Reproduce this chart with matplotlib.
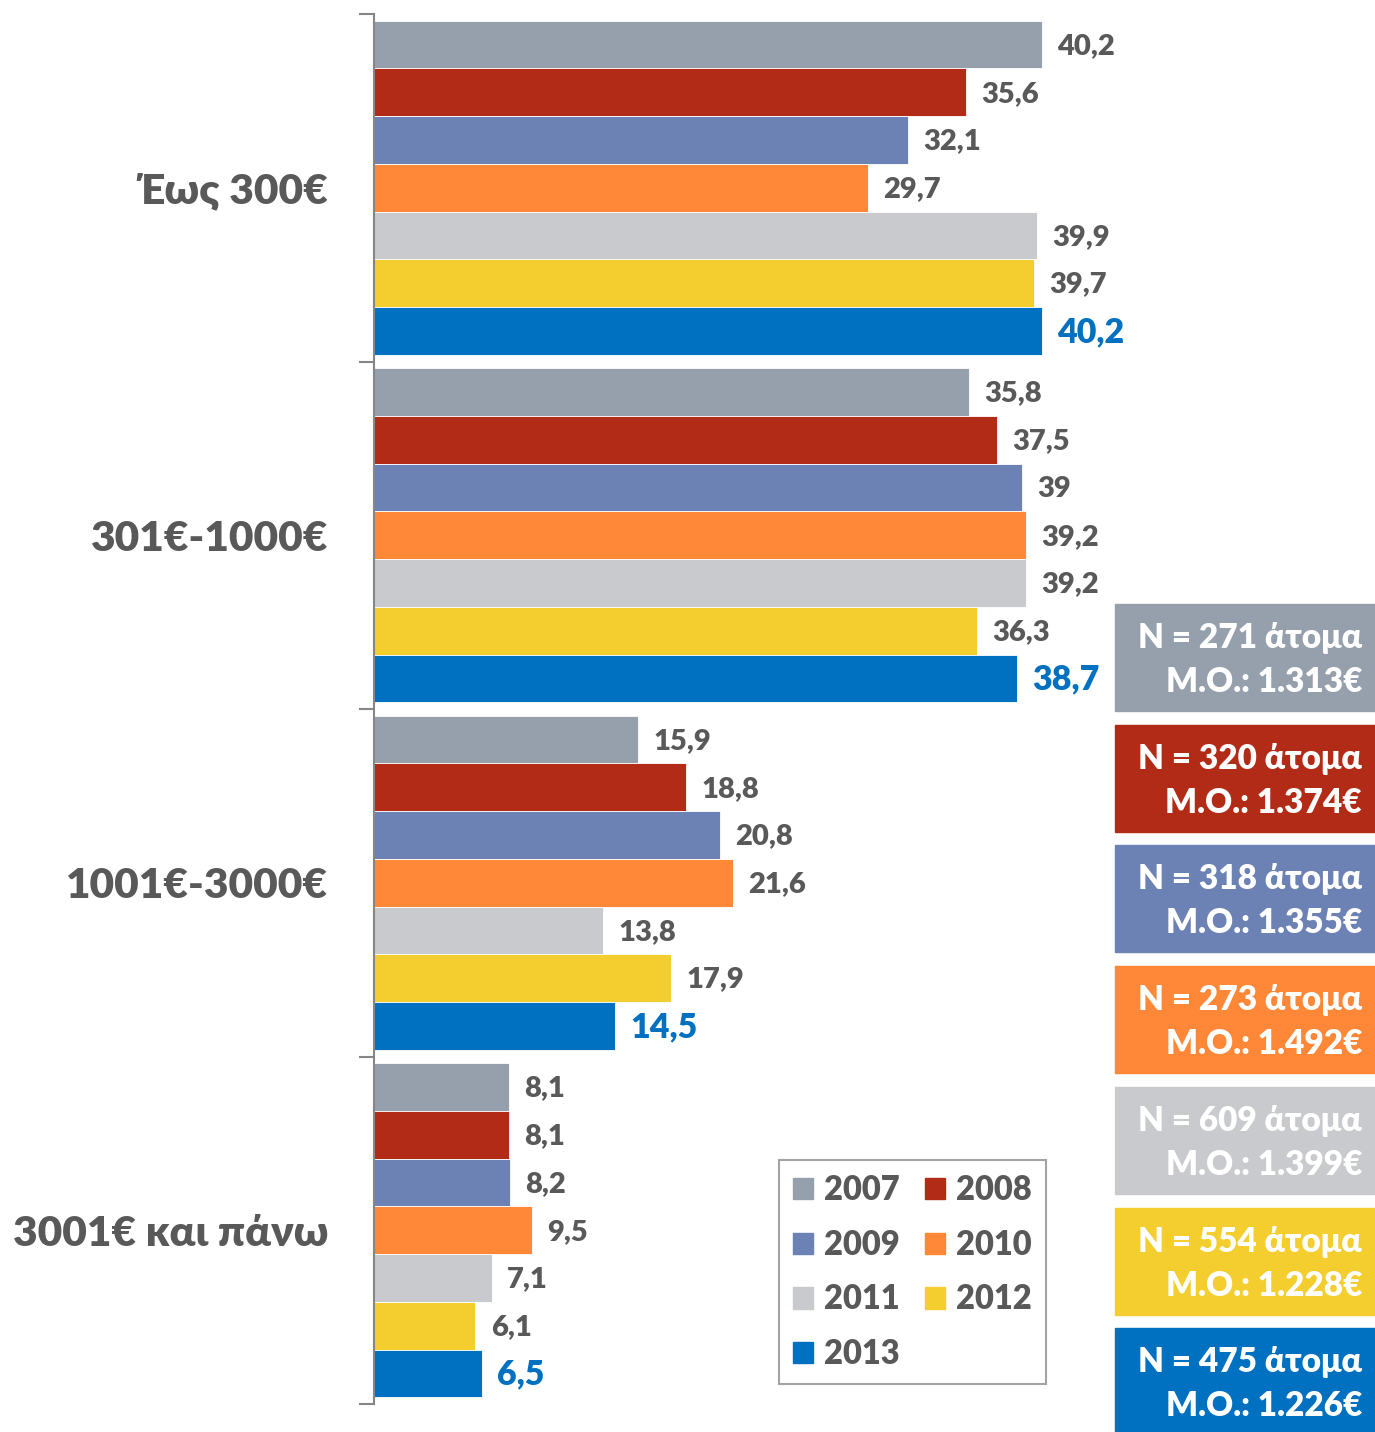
import numpy as np
import matplotlib.pyplot as plt
from matplotlib.patches import Rectangle, Patch

plt.rcParams['font.family'] = ['Lato', 'DejaVu Sans']

categories = ["Έως 300€", "301€-1000€", "1001€-3000€", "3001€ και πάνω"]
years = ["2007", "2008", "2009", "2010", "2011", "2012", "2013"]
colors = ["#969FAC", "#B22B17", "#6D82B4", "#FF8838", "#C9CACD", "#F4CD2E", "#0070C0"]

values = {
    "2007": [40.2, 35.8, 15.9, 8.1],
    "2008": [35.6, 37.5, 18.8, 8.1],
    "2009": [32.1, 39.0, 20.8, 8.2],
    "2010": [29.7, 39.2, 21.6, 9.5],
    "2011": [39.9, 39.2, 13.8, 7.1],
    "2012": [39.7, 36.3, 17.9, 6.1],
    "2013": [40.2, 38.7, 14.5, 6.5],
}

n_people = [271, 320, 318, 273, 609, 554, 475]
mean_income = ["1.313", "1.374", "1.355", "1.492", "1.399", "1.228", "1.226"]

TXT = "#595959"
W, H = 1375, 1432
WT = "heavy"

fig = plt.figure(figsize=(W / 100, H / 100), dpi=100)
ax = fig.add_axes([374 / W, 28 / H, 1 - 374 / W, 1390 / H])

group = 0.961
bh = group / len(years)
y0 = np.arange(len(categories))

def fmt(v):
    s = f"{v:.1f}".replace(".", ",")
    return s[:-2] if s.endswith(",0") else s

for i, yr in enumerate(years):
    ys = y0 - group / 2 + bh * (i + 0.5)
    ax.barh(ys, values[yr], height=bh, color=colors[i], edgecolor="white", linewidth=0.6)
    last = (yr == "2013")
    for y, v in zip(ys, values[yr]):
        ax.annotate(fmt(v), (v, y), xytext=(11, -1), textcoords="offset points",
                    ha="left", va="center", fontweight=WT,
                    fontsize=24.5 if last else 21,
                    color="#0070C0" if last else TXT)

ax.set_ylim(3.5, -0.5)
ax.set_xlim(0, (W - 374) / 16.62)

for s in ["top", "right", "bottom"]:
    ax.spines[s].set_visible(False)
ax.spines["left"].set_color("#868686")
ax.spines["left"].set_linewidth(1.5)
ax.set_xticks([])

ax.set_yticks([-0.5, 0.5, 1.5, 2.5, 3.5])
ax.set_yticklabels([])
ax.tick_params(axis="y", which="major", length=11, width=1.5, color="#868686", direction="out")
ax.set_yticks(y0, minor=True)
ax.set_yticklabels(categories, minor=True, fontsize=30.5, fontweight=WT, color=TXT)
ax.tick_params(axis="y", which="minor", length=0, pad=33)

# legend
handles = [Patch(color=colors[i], label=years[i]) for i in range(len(years))]
order = [0, 2, 4, 6, 1, 3, 5]
leg = fig.legend([handles[i] for i in order], [years[i] for i in order],
                 ncol=2, loc="lower left", bbox_to_anchor=(779 / W, 48 / H),
                 bbox_transform=fig.transFigure, frameon=True, fancybox=False,
                 borderaxespad=0, handlelength=0.62, handleheight=0.62,
                 handletextpad=0.35, columnspacing=0.75, labelspacing=0.7,
                 borderpad=0.42, prop={"size": 23.5, "weight": WT})
leg.get_frame().set_edgecolor("#8C8C8C")
leg.get_frame().set_linewidth(1.5)
for t in leg.get_texts():
    t.set_color(TXT)

# info boxes
for i in range(len(years)):
    top = 604 + i * 120.7
    fig.patches.append(Rectangle((1115 / W, 1 - (top + 107) / H), 260 / W, 107 / H,
                                 transform=fig.transFigure, color=colors[i], zorder=0))
    fig.text(1362 / W, 1 - (top + 34) / H, f"N = {n_people[i]} άτομα", ha="right", va="center",
             color="white", fontsize=24, fontweight=WT)
    fig.text(1362 / W, 1 - (top + 78) / H, f"Μ.Ο.: {mean_income[i]}€", ha="right", va="center",
             color="white", fontsize=24, fontweight=WT)

fig.savefig("out.png", dpi=100)
